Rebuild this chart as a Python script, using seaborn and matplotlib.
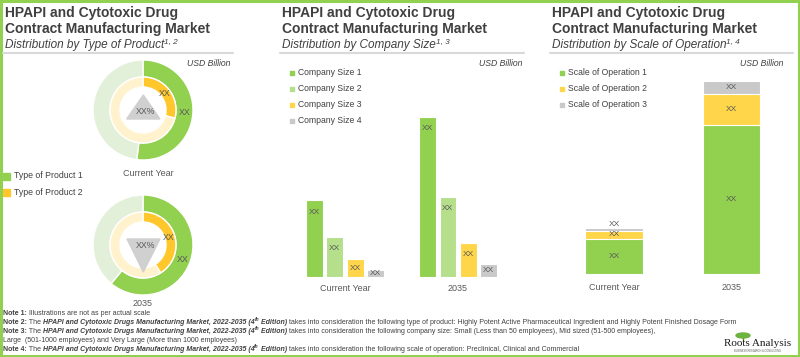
import matplotlib
matplotlib.use("Agg")
import matplotlib.pyplot as plt
from matplotlib.patches import Rectangle, Polygon, Ellipse
import numpy as np
import pandas as pd
import seaborn as sns

sns.set_style("white")
plt.rcParams["font.family"] = ["Liberation Sans", "DejaVu Sans"]

# -----------------------------
# Data
# -----------------------------
title_lines = ["HPAPI and Cytotoxic Drug", "Contract Manufacturing Market"]
subtitles = ["Distribution by Type of Product", "Distribution by Company Size",
             "Distribution by Scale of Operation"]
subtitle_refs = ["1, 2", "1, 3", "1, 4"]
periods = ["Current Year", "2035"]

product_types = ["Type of Product 1", "Type of Product 2"]
product1_share = [52, 61]   # outer ring, % of the ring
product2_share = [29, 41]   # inner ring, % of the ring

company_sizes = ["Company Size 1", "Company Size 2", "Company Size 3", "Company Size 4"]
company_cy = [77, 40, 18, 7]
company_2035 = [160, 80, 34, 13]

scales = ["Scale of Operation 1", "Scale of Operation 2", "Scale of Operation 3"]
scale_cy = [35, 8, 3]
scale_2035 = [149, 31, 13]

report_title = "HPAPI and Cytotoxic Drugs Manufacturing Market, 2022-2035 (4"
notes = [
    ("Note 1:", None, " Illustrations are not as per actual scale"),
    ("Note 2:", report_title, " takes into consideration the following type of product: Highly Potent "
     "Active Pharmaceutical Ingredient and Highly Potent Finished Dosage Form"),
    ("Note 3:", report_title, " takes into consideration the following company size: Small (Less than "
     "50 employees), Mid sized (51-500 employees),"),
    ("", None, "Large  (501-1000 employees) and Very Large (More than 1000 employees)"),
    ("Note 4:", report_title, " takes into consideration the following scale of operation: Preclinical, "
     "Clinical and Commercial"),
]

# colours
GREEN = "#92D050"
GREEN_PALE = "#E2F0D9"
YELLOW = "#FFC72C"
YELLOW_PALE = "#FFF2CC"
BAR_GREEN2 = "#B5DF8A"
BAR_YELLOW = "#FFD54A"
GREY = "#C9C9C9"
TEXT = "#404040"
LABEL = "#595959"

W, H = 800, 357
fig = plt.figure(figsize=(W / 100, H / 100), dpi=100)

# overlay axes in pixel units (y measured upward)
ov = fig.add_axes([0, 0, 1, 1])


def Y(py):
    return H - py


# -----------------------------
# Panel 1: donuts
# -----------------------------
donut_centers = [(143, 110), (143, 245)]
for i, (cx, cy) in enumerate(donut_centers):
    c = (cx, Y(cy))
    ov.pie([product1_share[i], 100 - product1_share[i]], colors=[GREEN, GREEN_PALE],
           radius=50, center=c, startangle=90, counterclock=False,
           wedgeprops=dict(width=17, edgecolor="white", linewidth=1))
    ov.pie([product2_share[i], 100 - product2_share[i]], colors=[YELLOW, YELLOW_PALE],
           radius=33, center=c, startangle=90, counterclock=False,
           wedgeprops=dict(width=10, edgecolor="white", linewidth=1))

ov.set_aspect("auto")
ov.set_xlim(0, W)
ov.set_ylim(0, H)
ov.axis("off")

for i, (cx, cy) in enumerate(donut_centers):
    for share, r in [(product1_share[i], 42), (product2_share[i], 27)]:
        a = np.deg2rad(360 * share / 100 / 2)
        ov.text(cx + r * np.sin(a), Y(cy) + r * np.cos(a), "XX", fontsize=6.3,
                color=LABEL, ha="center", va="center")

# centre triangles
ov.add_patch(Polygon([(126.7, Y(119)), (160, Y(119)), (143.3, Y(95))], color="#D0D0D0"))
ov.text(145, Y(111), "XX%", fontsize=6.3, color=LABEL, ha="center", va="center")
ov.add_patch(Polygon([(127, Y(239)), (160, Y(239)), (143.3, Y(272))], color="#D0D0D0"))
ov.text(145, Y(246), "XX%", fontsize=6.3, color=LABEL, ha="center", va="center")

ov.text(148, Y(173), periods[0], fontsize=6.5, color=LABEL, ha="center", va="center")
ov.text(143, Y(304), periods[1], fontsize=6.5, color=LABEL, ha="center", va="center")

for k, (lab, col) in enumerate(zip(product_types, [GREEN, YELLOW])):
    yy = 176 + 16.5 * k
    ov.add_patch(Rectangle((3, Y(yy) - 3.5), 7, 7, color=col))
    ov.text(14, Y(yy), lab, fontsize=6.3, color=TEXT, va="center")

# -----------------------------
# Panel 2: grouped bars
# -----------------------------
ax2 = fig.add_axes([282 / W, (H - 277) / H, (523 - 282) / W, (277 - 60) / H])
df2 = pd.DataFrame({
    "period": np.repeat(periods, len(company_sizes)),
    "size": company_sizes * 2,
    "value": company_cy + company_2035,
})
sns.barplot(data=df2, x="period", y="value", hue="size",
            palette=[GREEN, BAR_GREEN2, BAR_YELLOW, GREY], saturation=1,
            width=0.72, gap=0.18, edgecolor="white", linewidth=0.8, legend=False, ax=ax2)
for p in ax2.patches:
    h = p.get_height()
    if h > 0:
        ax2.text(p.get_x() + p.get_width() / 2, h - min(12, h / 2), "XX", fontsize=6,
                 color=LABEL, ha="center", va="center")
ax2.set_xlim(-0.5575, 1.575)
ax2.set_ylim(0, 217)

for k, (lab, col) in enumerate(zip(company_sizes, [GREEN, BAR_GREEN2, BAR_YELLOW, GREY])):
    yy = 72.5 + 16 * k
    ov.add_patch(Rectangle((290, Y(yy) - 2), 4, 4, color=col))
    ov.text(298, Y(yy), lab, fontsize=6.2, color=TEXT, va="center")

# -----------------------------
# Panel 3: stacked bars
# -----------------------------
ax3 = fig.add_axes([552 / W, (H - 274) / H, (795 - 552) / W, (274 - 60) / H])
stack = np.array([scale_cy, scale_2035])          # rows: period, cols: scale
tops = np.cumsum(stack, axis=1)
for j, col in reversed(list(enumerate([GREEN, BAR_YELLOW, GREY]))):
    sns.barplot(x=periods, y=tops[:, j], color=col, saturation=1, width=0.49,
                edgecolor="white", linewidth=0.8, ax=ax3)
for i in range(len(periods)):
    for j in range(stack.shape[1]):
        lo = tops[i, j] - stack[i, j]
        yy = (lo + tops[i, j]) / 2
        if stack[i, j] < 5:
            yy = tops[i, j] + 3
        ax3.text(i, yy, "XX", fontsize=6, color=LABEL, ha="center", va="center")
ax3.set_xlim(-0.528, 1.54)
ax3.set_ylim(0, 214)

for k, (lab, col) in enumerate(zip(scales, [GREEN, BAR_YELLOW, GREY])):
    yy = 72.5 + 16 * k
    ov.add_patch(Rectangle((560, Y(yy) - 2), 4, 4, color=col))
    ov.text(568, Y(yy), lab, fontsize=6.2, color=TEXT, va="center")

for ax, pad in [(ax2, 5), (ax3, 6.5)]:
    ax.set_xlabel("")
    ax.set_ylabel("")
    ax.set_yticks([])
    ax.tick_params(axis="x", length=0, pad=pad, labelsize=6.5, labelcolor=LABEL)
    sns.despine(ax=ax, left=True, bottom=True)
    ax.patch.set_alpha(0)

# -----------------------------
# Titles, notes, frame
# -----------------------------
renderer = fig.canvas.get_renderer()


def rich(x, y, parts, size):
    # parts: (text, weight, style, raised)
    for text, weight, style, raised in parts:
        fs = size * 0.7 if raised else size
        t = ov.text(x, Y(y) + (size * 0.55 if raised else 0), text, fontsize=fs,
                    fontweight=weight, fontstyle=style, color=TEXT, va="baseline", ha="left")
        x = t.get_window_extent(renderer).x1
    return x


panel_x = [5, 282, 552]
rule_end = [233, 524, 793]
usd_x = [230, 522, 783]
for k in range(3):
    x0 = panel_x[k]
    ov.text(x0, Y(17), title_lines[0], fontsize=10, fontweight="bold", color=TEXT, va="baseline")
    ov.text(x0, Y(32.5), title_lines[1], fontsize=10, fontweight="bold", color=TEXT, va="baseline")
    rich(x0, 48, [(subtitles[k], "normal", "italic", False),
                  (subtitle_refs[k], "normal", "italic", True)], 8.5)
    ov.plot([x0 - 2, rule_end[k]], [Y(52.5), Y(52.5)], color="#D9D9D9", lw=1.5)
    ov.text(usd_x[k], Y(63), "USD Billion", fontsize=6.2, fontstyle="italic",
            color=TEXT, ha="right", va="center")

for n, (head, ref, tail) in enumerate(notes):
    yb = 315 + 8.9 * n
    parts = []
    if head:
        parts.append((head, "bold", "normal", False))
    if ref:
        parts += [(" The", "normal", "normal", False),
                  (" " + ref, "bold", "italic", False),
                  ("th", "bold", "italic", True),
                  (" Edition)", "bold", "italic", False)]
    parts.append((tail, "normal", "normal", False))
    rich(3, yb, parts, 5.05)

# logo
ov.add_patch(Ellipse((743, Y(335.5)), 14, 5, color="#6DB33F"))
ov.plot([743, 743], [Y(338), Y(341)], color="#6B8E23", lw=1)
ov.text(758, Y(346), "Roots Analysis", family=["Liberation Serif", "DejaVu Serif"],
        fontsize=8, color="#1A1A1A", ha="center", va="baseline")
ov.text(758, Y(351), "BUSINESS RESEARCH & CONSULTING", fontsize=1.8, color="#555555",
        ha="center", va="center")

ov.add_patch(Rectangle((1.2, 1.2), W - 2.4, H - 2.4, fill=False, edgecolor=GREEN, lw=2.2))

fig.savefig("out.png", dpi=100)
